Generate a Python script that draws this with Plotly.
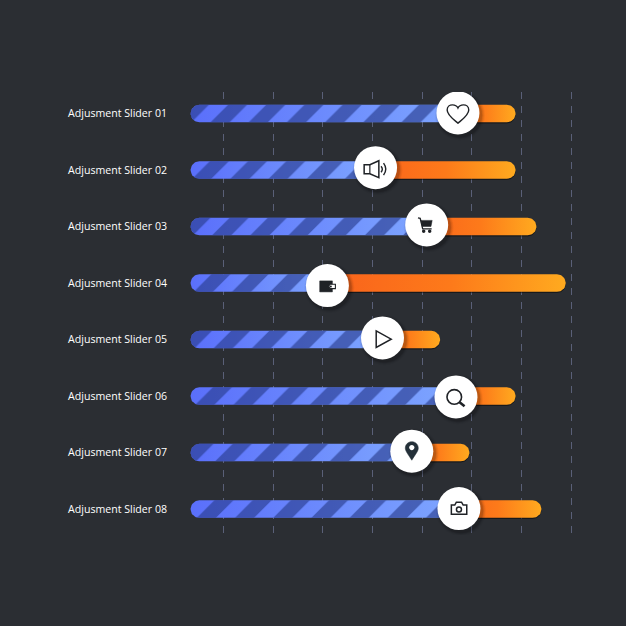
"""
Adjustment sliders: striped blue part up to the knob, orange part after it.
"""
import numpy as np
import plotly.graph_objects as go

labels = ["Adjusment Slider 0%d" % i for i in range(1, 9)]
rows = list(range(8))
grid_values = [10, 20, 30, 40, 50, 60, 70, 80]
start_value = 3.35
knob_values = [57.2, 40.6, 50.9, 30.9, 42.0, 56.8, 47.9, 57.4]
end_values = [68.8, 68.8, 73.0, 78.9, 53.6, 68.8, 59.5, 74.0]

BG = "#2b2e33"
DARK = "#1f2226"
GRID = "#5a6078"
PX_X = 4.96   # px per x unit
PX_Y = 56.5   # px per row
BAR_H = 17.5
# knobs do not sit exactly on their bar in the picture (px, downwards)
knob_drift = [-0.7, -2.4, -1.7, 2.5, -1.7, 0.8, -1.4, -0.5]


def pill(x0, x1, y, h=BAR_H):
    """Outline of a rounded bar, in data units."""
    rx = h / 2 / PX_X
    ry = h / 2 / PX_Y
    t = np.linspace(-np.pi / 2, np.pi / 2, 24)
    xs = np.concatenate([x1 - rx + rx * np.cos(t), x0 + rx - rx * np.cos(t)])
    ys = np.concatenate([y + ry * np.sin(t), y - ry * np.sin(t)])
    return np.append(xs, xs[0]), np.append(ys, ys[0])


def circle(cx, cy, r):
    # arcs do not survive pixel sized shapes, so four cubic curves
    k = 0.5523 * r
    return ("M%g %g C%g %g %g %g %g %g C%g %g %g %g %g %g "
            "C%g %g %g %g %g %g C%g %g %g %g %g %g Z" % (
                cx - r, cy,
                cx - r, cy + k, cx - k, cy + r, cx, cy + r,
                cx + k, cy + r, cx + r, cy + k, cx + r, cy,
                cx + r, cy - k, cx + k, cy - r, cx, cy - r,
                cx - k, cy - r, cx - r, cy - k, cx - r, cy))


# icon parts: (path, fill, line colour, line width), pixels around the knob, y up
icons = [
    [("M0 -10.3 C-5 -6 -10.8 -2 -10.8 3 C-10.8 6.5 -8 8 -5.5 8 C-3 8 -1 7 0 4.8 "
      "C1 7 3 8 5.5 8 C8 8 10.8 6.5 10.8 3 C10.8 -2 5 -6 0 -10.3 Z", None, DARK, 1.4)],
    [("M-11.4 3 L-5.7 3 L3.3 7 L3.3 -10 L-5.7 -6 L-11.4 -6 Z", None, DARK, 1.5),
     ("M-5.7 3 L-5.7 -6", None, DARK, 1.2),
     ("M5.5 1.5 Q8 -1.5 5.5 -4.5", None, DARK, 1.4),
     ("M8 4.5 Q12.5 -1.5 8 -7.5", None, DARK, 1.4)],
    [("M-8.7 7 L-6.5 6.5 L-4 -4 L5 -4", None, DARK, 1.3),
     ("M-5.8 4.5 L5.5 4.5 L4.3 -1.6 L-4.5 -1.6 Z", DARK, DARK, 0.5),
     (circle(-3, -6.4, 1.7), DARK, DARK, 0),
     (circle(3, -6.4, 1.7), DARK, DARK, 0)],
    [("M-7.7 4.7 L5 4.7 L5 -6.3 L-7.7 -6.3 Z", DARK, DARK, 0.5),
     ("M8 1.4 L2.5 1.4 Q0.5 -0.8 2.5 -3 L8 -3 Z", "#ffffff", DARK, 1.1),
     (circle(3.4, -0.8, 1), DARK, DARK, 0)],
    [("M-6.3 7 L8.7 -1.3 L-6.3 -9.6 Z", None, DARK, 1.5)],
    [(circle(-1.7, 0, 7.3), None, DARK, 1.6),
     ("M3.6 -5.3 L8.6 -9.3", None, DARK, 2.6)],
    [("M0 -9 C-3 -4 -6.5 0 -6.5 3 C-6.5 7 -3.5 9.5 0 9.5 C3.5 9.5 6.5 7 6.5 3 "
      "C6.5 0 3 -4 0 -9 Z", "#243039", "#243039", 0.5),
     (circle(0, 3.6, 2.6), "#ffffff", "#ffffff", 0)],
    [("M-7.6 -5.6 L7.8 -5.6 L7.8 3.5 L4.2 3.5 L2.6 6.4 L-2.6 6.4 L-4.2 3.5 L-7.6 3.5 Z",
      None, DARK, 1.5),
     (circle(0, -0.8, 2.5), None, DARK, 1.5)],
]

fig = go.Figure()

# bottom subplot: gradient fills
for r, knob, end in zip(rows, knob_values, end_values):
    xs, ys = pill(knob - 3, end, r + 1.2 / PX_Y)
    fig.add_trace(go.Scatter(x=xs, y=ys, mode="lines", line_width=0, fill="toself",
                             fillcolor="rgba(0,0,0,0.45)", hoverinfo="skip"))
    xs, ys = pill(start_value, knob, r)
    fig.add_trace(go.Scatter(x=xs, y=ys, mode="lines", line_width=0, fill="toself",
                             fillgradient=dict(type="horizontal",
                                               colorscale=[[0, "#5a6ffb"], [1, "#7ea6ff"]]),
                             hoverinfo="skip"))
    xs, ys = pill(knob - 3, end, r)
    fig.add_trace(go.Scatter(x=xs, y=ys, mode="lines", line_width=0, fill="toself",
                             fillgradient=dict(type="horizontal",
                                               colorscale=[[0, "#f9601c"], [0.55, "#fd7a1a"],
                                                           [1, "#ffaa1f"]]),
                             hoverinfo="skip"))

# top subplot: stripes and knobs have to sit over the fills
fig.add_trace(go.Bar(
    y=rows, x=[k - start_value for k in knob_values], base=start_value,
    orientation="h", width=BAR_H / PX_Y, xaxis="x2", yaxis="y2",
    marker=dict(color="rgba(0,0,0,0)", line_width=0,
                pattern=dict(shape="/", size=27, solidity=0.5,
                             fgcolor="#263a8a", fgopacity=0.62,
                             bgcolor="rgba(0,0,0,0)")),
    hoverinfo="skip"))

knob_y = [r + d / PX_Y for r, d in zip(rows, knob_drift)]
for size, alpha in [(50, 0.04), (48, 0.06), (46, 0.08), (44.5, 0.1)]:
    fig.add_trace(go.Scatter(x=[k + 0.4 for k in knob_values], y=[y + 0.04 for y in knob_y],
                             mode="markers", xaxis="x2", yaxis="y2",
                             marker=dict(size=size, color="rgba(0,0,0,%g)" % alpha, line_width=0),
                             hoverinfo="skip"))
fig.add_trace(go.Scatter(x=knob_values, y=knob_y, mode="markers", xaxis="x2", yaxis="y2",
                         marker=dict(size=43, color="#ffffff", line_width=0),
                         hoverinfo="skip"))

for knob, y, parts in zip(knob_values, knob_y, icons):
    for path, fill, colour, width in parts:
        fig.add_shape(type="path", path=path, xref="x", yref="y",
                      xsizemode="pixel", ysizemode="pixel", xanchor=knob, yanchor=y,
                      fillcolor=fill if fill else "rgba(0,0,0,0)",
                      line=dict(color=colour, width=width))

x_range = [0, 91.05]
y_range = [7.458, -0.382]
fig.update_layout(
    width=626, height=626, showlegend=False, barmode="overlay", barcornerradius=8.7,
    margin=dict(l=174.4, r=0, t=92, b=91),
    paper_bgcolor=BG, plot_bgcolor=BG,
    font=dict(family="Open Sans", size=10.6, color="#ffffff"),
    xaxis=dict(range=x_range, tickmode="array", tickvals=grid_values, showticklabels=False,
               showgrid=True, gridcolor=GRID, gridwidth=1.2, griddash="7px 7px",
               zeroline=False, showline=False, ticks=""),
    yaxis=dict(range=y_range, tickmode="array", tickvals=rows, ticktext=labels,
               showgrid=False, zeroline=False, showline=False, ticks="",
               ticklabelstandoff=6,
               tickfont=dict(family="Open Sans", size=10.6, color="#ffffff", weight=500)),
    xaxis2=dict(range=x_range, overlaying="x", visible=False),
    yaxis2=dict(range=y_range, overlaying="y", visible=False),
)

fig.write_html("out.html", config={"displayModeBar": False},
               post_script="document.body.style.margin='0';")
